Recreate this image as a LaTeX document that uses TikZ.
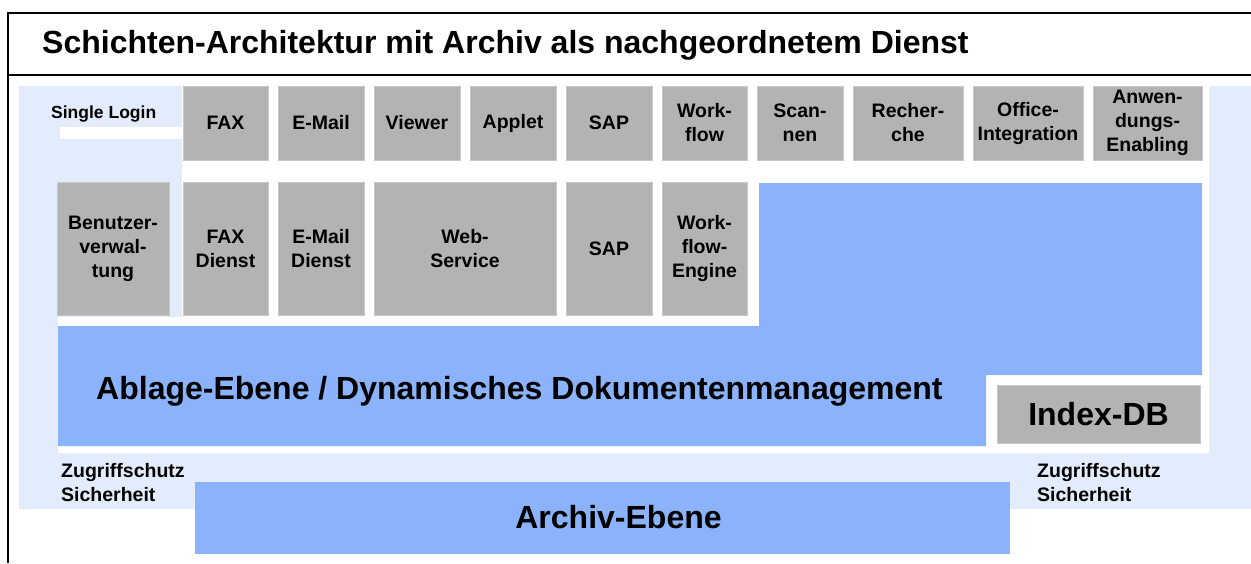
\documentclass[tikz,border=0pt]{standalone}
\usepackage{fontspec}
\setmainfont{Liberation Sans}
\definecolor{boxgray}{RGB}{179,179,179}
\definecolor{boxedge}{RGB}{200,200,200}
\definecolor{lightbg}{RGB}{227,236,253}
\definecolor{layerblue}{RGB}{138,179,252}
\newcommand\boxfont{\fontsize{19.5}{24}\selectfont\bfseries}
\newcommand\bigfont{\fontsize{32}{36}\selectfont\bfseries}
\begin{document}
\begin{tikzpicture}[x=1pt,y=-1pt,
  gbox/.style={fill=boxgray,draw=boxedge,line width=0.6pt,inner sep=0pt,align=center,font=\boxfont,text=black},
  frameline/.style={line width=2pt,black},
  lbl/.style={inner sep=0pt,align=left,font=\boxfont,text=black}]
\useasboundingbox (0,0) rectangle (1251,563);
% frame
\draw[frameline] (1251,13) -- (8,13) -- (8,563);
\draw[frameline] (8,75) -- (1251,75);
\node[inner sep=0pt,anchor=base west,font=\bigfont] (title) at (42,53) {Schichten-Architektur mit Archiv als nachgeordnetem Dienst};
% backgrounds
\fill[lightbg] (19,86) rectangle (1251,509);
\fill[white] (182,86) -- (1209,86) -- (1209,453) -- (58,453) -- (58,317) -- (182,317) -- cycle;
\fill[white] (60,127) rectangle (182,139);
\fill[layerblue] (58,326) -- (759,326) -- (759,183) -- (1202,183) -- (1202,375) -- (986,375) -- (986,446) -- (58,446) -- cycle;
\node[inner sep=0pt,anchor=base west,font=\bigfont] (ablage) at (96,399) {Ablage-Ebene / Dynamisches Dokumentenmanagement};
% top row
\node[gbox,minimum width=85pt,minimum height=74pt] (fax) at (225.5,123) {FAX};
\node[gbox,minimum width=86pt,minimum height=74pt] (email) at (321,123) {E-Mail};
\node[gbox,minimum width=86pt,minimum height=74pt] (viewer) at (417,123) {Viewer};
\node[gbox,minimum width=86pt,minimum height=74pt] (applet) at (513,123) {Applet};
\node[gbox,minimum width=86pt,minimum height=74pt] (sap) at (609,123) {SAP};
\node[gbox,minimum width=85pt,minimum height=74pt] (wf) at (704.5,123) {Work-\\flow};
\node[gbox,minimum width=86pt,minimum height=74pt] (scan) at (800,123) {Scan-\\nen};
\node[gbox,minimum width=110pt,minimum height=74pt] (rech) at (908,123) {Recher-\\che};
\node[gbox,minimum width=110pt,minimum height=74pt] (office) at (1028,123) {Office-\\Integration};
\node[gbox,minimum width=109pt,minimum height=74pt] (anw) at (1147.5,123) {Anwen-\\dungs-\\Enabling};
% middle row
\node[gbox,minimum width=112pt,minimum height=133pt] (benutzer) at (113,248.5) {Benutzer-\\verwal-\\tung};
\node[gbox,minimum width=85pt,minimum height=133pt] (faxd) at (225.5,248.5) {FAX\\Dienst};
\node[gbox,minimum width=86pt,minimum height=133pt] (emaild) at (321,248.5) {E-Mail\\Dienst};
\node[gbox,minimum width=182pt,minimum height=133pt] (web) at (465,248.5) {Web-\\Service};
\node[gbox,minimum width=86pt,minimum height=133pt] (sapd) at (609,248.5) {SAP};
\node[gbox,minimum width=85pt,minimum height=133pt] (wfe) at (704.5,248.5) {Work-\\flow-\\Engine};
% index db
\node[gbox,font=\bigfont,minimum width=203pt,minimum height=58pt] (index) at (1098.5,414) {Index-DB};
% archive
\node[fill=layerblue,inner sep=0pt,minimum width=815pt,minimum height=72pt] (archiv) at (602.5,518) {};
\node[inner sep=0pt,font=\bigfont,anchor=base] (archivtext) at (618.5,528) {Archiv-Ebene};
% labels
\node[lbl,font=\fontsize{17.5}{21}\selectfont\bfseries,anchor=base west] (login) at (51,118) {Single Login};
\node[lbl,anchor=base west] (zs1) at (61,477) {Zugriffschutz};
\node[lbl,anchor=base west] (si1) at (61,501) {Sicherheit};
\node[lbl,anchor=base west] (zs2) at (1037,477) {Zugriffschutz};
\node[lbl,anchor=base west] (si2) at (1037,501) {Sicherheit};
\end{tikzpicture}
\end{document}
